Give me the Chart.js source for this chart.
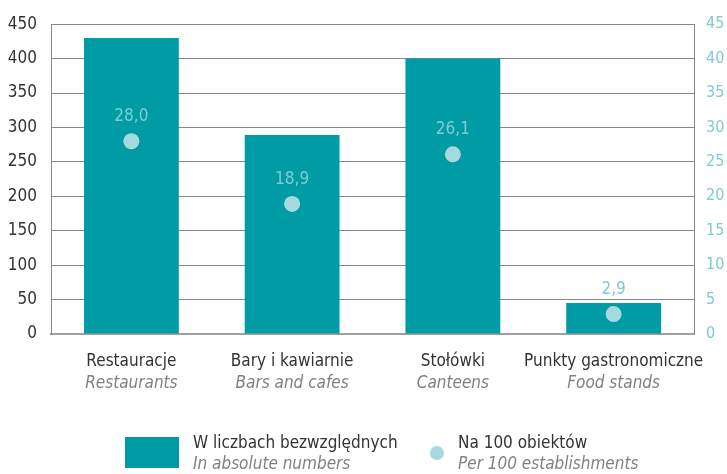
<!DOCTYPE html>
<html>
<head>
<meta charset="utf-8">
<script src="https://cdn.jsdelivr.net/npm/chart.js@4"></script>
<style>
  html, body { margin: 0; padding: 0; background: #fff; }
  #wrap { position: relative; width: 727px; height: 474px; }
  .legend { position: absolute; font-family: 'Liberation Sans Narrow', 'DejaVu Sans Condensed', sans-serif; font-size: 17px; line-height: 21px; color: #333; }
  .legend i { color: #808080; }
  .swatch { position: absolute; }
</style>
</head>
<body>
<div id="wrap">
  <canvas id="chart" width="727" height="474"></canvas>
  <div class="swatch" style="left:125px;top:437px;width:54px;height:31px;background:#009ca6;"></div>
  <div class="legend" style="left:193px;top:432px;">W liczbach bezwzględnych<br><i>In absolute numbers</i></div>
  <div class="swatch" style="left:430px;top:446px;width:14px;height:14px;border-radius:50%;background:#a6d9df;"></div>
  <div class="legend" style="left:458px;top:432px;">Na 100 obiektów<br><i>Per 100 establishments</i></div>
</div>
<script>
const categoriesPl = ['Restauracje', 'Bary i kawiarnie', 'Stołówki', 'Punkty gastronomiczne'];
const categoriesEn = ['Restaurants', 'Bars and cafes', 'Canteens', 'Food stands'];
const absoluteValues = [430, 289, 400, 45];
const per100Values = [28.0, 18.9, 26.1, 2.9];
const leftTicks = [0, 50, 100, 150, 200, 250, 300, 350, 400, 450];
const rightTicks = [0, 5, 10, 15, 20, 25, 30, 35, 40, 45];

const FONT = "'Liberation Sans Narrow', 'DejaVu Sans Condensed', sans-serif";
const TEAL = '#009ca6';
const LIGHT = '#a6d9df';
const LABEL_TEAL = '#7fcbd3';

const categoryLabels = {
    id: 'categoryLabels',
    afterDraw(chart) {
        const ctx = chart.ctx;
        const x = chart.scales.x;
        const base = chart.chartArea.bottom;
        ctx.save();
        ctx.textAlign = 'center';
        ctx.textBaseline = 'alphabetic';
        categoriesPl.forEach((name, i) => {
            const px = x.getPixelForTick(i);
            ctx.font = '17px ' + FONT;
            ctx.fillStyle = '#333';
            ctx.fillText(name, px, base + 32);
            ctx.font = 'italic 17px ' + FONT;
            ctx.fillStyle = '#808080';
            ctx.fillText(categoriesEn[i], px, base + 54);
        });
        ctx.restore();
    }
};

const pointLabels = {
    id: 'pointLabels',
    afterDatasetsDraw(chart) {
        const ctx = chart.ctx;
        const meta = chart.getDatasetMeta(1);
        ctx.save();
        ctx.font = '17px ' + FONT;
        ctx.fillStyle = LABEL_TEAL;
        ctx.textAlign = 'center';
        ctx.textBaseline = 'alphabetic';
        meta.data.forEach((pt, i) => {
            ctx.fillText(per100Values[i].toFixed(1).replace('.', ','), pt.x, pt.y - 20);
        });
        ctx.restore();
    }
};

new Chart(document.getElementById('chart'), {
    type: 'bar',
    data: {
        labels: categoriesPl,
        datasets: [{
            type: 'bar',
            data: absoluteValues,
            backgroundColor: TEAL,
            barPercentage: 0.59,
            categoryPercentage: 1,
            yAxisID: 'y',
            order: 2
        }, {
            type: 'line',
            data: per100Values,
            showLine: false,
            pointRadius: 8,
            pointBackgroundColor: LIGHT,
            pointBorderWidth: 0,
            yAxisID: 'y2',
            order: 1
        }]
    },
    options: {
        responsive: false,
        animation: false,
        layout: { padding: { top: 14, left: 0, right: 0, bottom: 0 } },
        plugins: { legend: { display: false }, tooltip: { enabled: false } },
        scales: {
            x: {
                grid: { display: false },
                border: { display: true, color: '#a0a0a0', width: 2 },
                ticks: { display: false },
                afterFit(scale) { scale.height = 140; }
            },
            y: {
                position: 'left',
                min: 0, max: 450,
                afterBuildTicks(scale) { scale.ticks = leftTicks.map(v => ({ value: v })); },
                ticks: { color: '#333', font: { family: FONT, size: 17 }, padding: 14 },
                grid: { color: '#888', drawTicks: false },
                border: { display: true, color: '#888' },
                afterFit(scale) { scale.width = 51; }
            },
            y2: {
                position: 'right',
                min: 0, max: 45,
                afterBuildTicks(scale) { scale.ticks = rightTicks.map(v => ({ value: v })); },
                ticks: { color: LABEL_TEAL, font: { family: FONT, size: 16 }, padding: 12 },
                grid: { display: false, drawTicks: false },
                border: { display: true, color: '#888' },
                afterFit(scale) { scale.width = 33; }
            }
        }
    },
    plugins: [categoryLabels, pointLabels]
});
</script>
</body>
</html>
